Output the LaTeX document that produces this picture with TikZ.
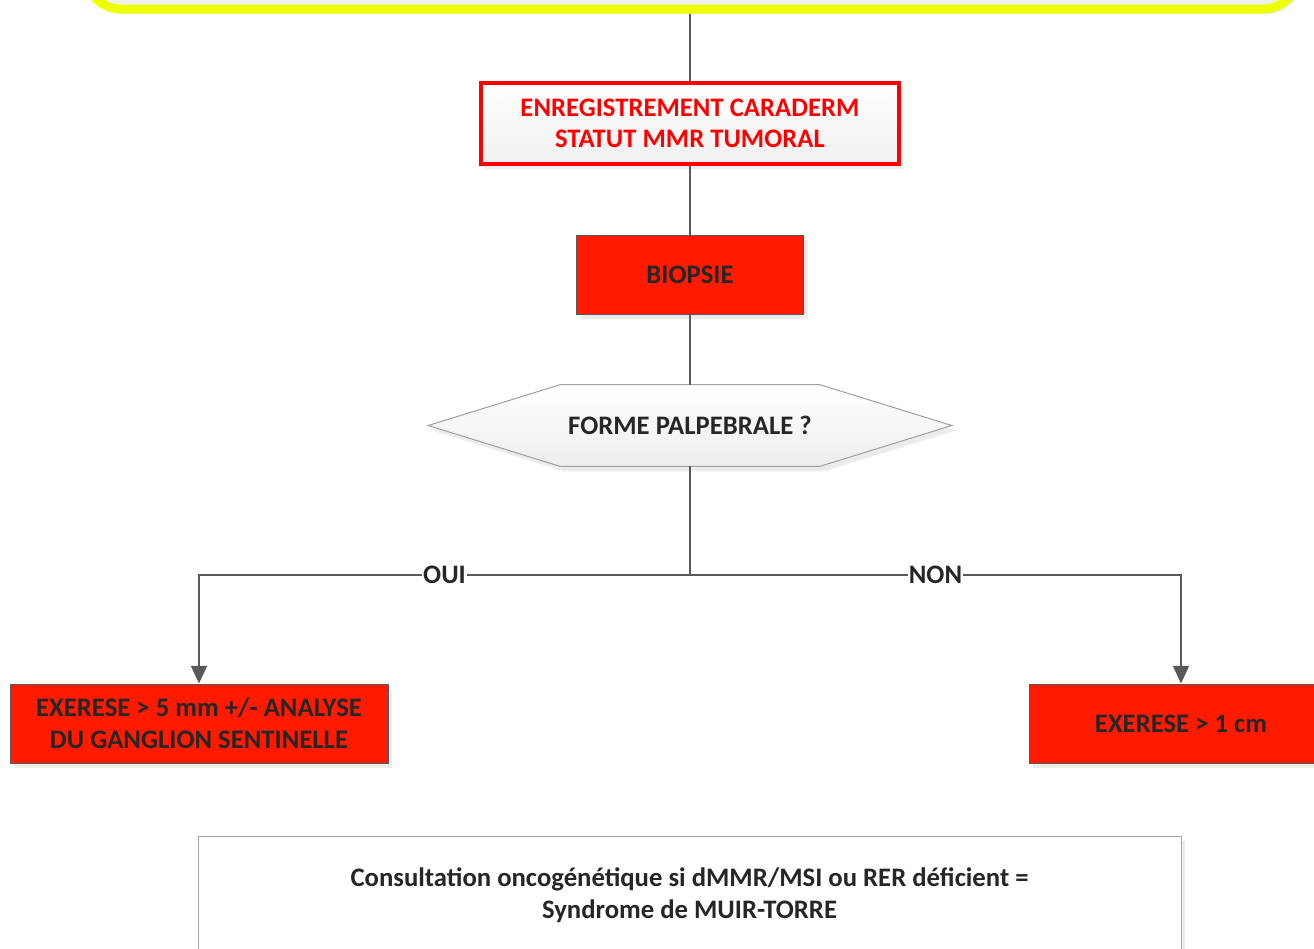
\documentclass[tikz,border=0pt]{standalone}
\usepackage{fontspec}
\setmainfont{Carlito}
\usetikzlibrary{arrows.meta,shadows,backgrounds}
\definecolor{boxRed}{HTML}{FF1A00}
\definecolor{titleRed}{HTML}{FF0000}
\definecolor{textDark}{HTML}{262626}
\definecolor{lineGray}{HTML}{595959}
\definecolor{markYellow}{HTML}{EEFF00}
\newdimen\pix
\pix=0.02cm
\newcommand{\boxFont}{\fontsize{15.2}{18}\selectfont\bfseries}

\begin{document}
\begin{tikzpicture}[x=0.02cm, y=-0.02cm,
    flowLine/.style={draw=lineGray, line width=2\pix},
    flowArrow/.style={flowLine, -{Triangle[width=9pt, length=10pt]}},
    baseBox/.style={rectangle, align=center, font=\boxFont, text=textDark, inner sep=0pt},
    boxShadow/.style={drop shadow={shadow xshift=4\pix, shadow yshift=-5\pix, opacity=0.15}},
    redBox/.style={baseBox, boxShadow, fill=boxRed, draw=lineGray, line width=1\pix},
    titleBox/.style={baseBox, boxShadow, text=titleRed, draw=titleRed, line width=4\pix,
        top color=white, bottom color=gray!12},
    questionShape/.style={boxShadow, draw=gray!75, line width=1\pix, top color=white, bottom color=gray!14},
    noteBox/.style={baseBox, boxShadow, fill=white, draw=gray!70, line width=1\pix},
    answer/.style={font=\boxFont, text=textDark, fill=white, inner sep=1\pix}]
    \clip (0,0) rectangle (1314,948);
    \pgfmathsetmacro{\tipDepth}{132}  % units of pixels
    % top frame, cut by the page edge
    \node[baseBox, boxShadow, draw=markYellow, line width=9\pix, fill=gray!12, rounded corners=35\pix,
        minimum width=1212\pix, minimum height=130\pix] (context) at (692,-56) {};
    % main column
    \node[titleBox, minimum width=418\pix, minimum height=81\pix] (caraderm) at (690,123.5)
        {ENREGISTREMENT CARADERM\\STATUT MMR TUMORAL};
    \node[redBox, minimum width=227\pix, minimum height=79\pix] (biopsy) at (690,274.5) {BIOPSIE};
    \node[baseBox, minimum width=523\pix, minimum height=81\pix] (eyelid) at (690,425.5)
        {FORME PALPEBRALE ?};
    \begin{scope}[on background layer]
        \path[questionShape] (eyelid.west) -- ([xshift=\tipDepth\pix]eyelid.north west)
            -- ([xshift=-\tipDepth\pix]eyelid.north east) -- (eyelid.east)
            -- ([xshift=-\tipDepth\pix]eyelid.south east) -- ([xshift=\tipDepth\pix]eyelid.south west) -- cycle;
    \end{scope}
    \coordinate (split) at (690,575);
    % outcomes
    \node[redBox, minimum width=378\pix, minimum height=79\pix] (wideLeft) at (199,723.5)
        {EXERESE > 5 mm +/- ANALYSE\\DU GANGLION SENTINELLE};
    \node[redBox, minimum width=304\pix, minimum height=79\pix] (wideRight) at (1181,723.5)
        {EXERESE > 1 cm};
    \node[noteBox, minimum width=983\pix, minimum height=118\pix] (genetics) at (689.5,895)
        {Consultation oncogénétique si dMMR/MSI ou RER déficient =\\Syndrome de MUIR-TORRE};
    % connectors
    \draw[flowLine] (context.south -| caraderm.north) -- (caraderm.north);
    \draw[flowLine] (caraderm) -- (biopsy);
    \draw[flowLine] (biopsy) -- (eyelid.north);
    \draw[flowLine] (eyelid.south) -- (split);
    \draw[flowArrow] (split) -| node[answer, pos=0.25] {OUI} (wideLeft.north);
    \draw[flowArrow] (split) -| node[answer, pos=0.25] {NON} (wideRight.north);
\end{tikzpicture}
\end{document}
